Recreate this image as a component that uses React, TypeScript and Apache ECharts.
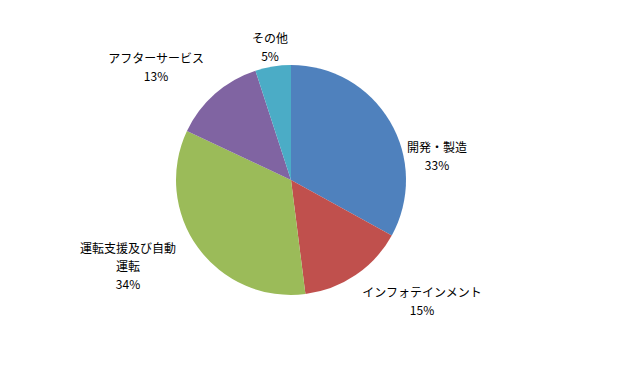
import React, { useEffect, useRef } from "react";
import * as echarts from "echarts";

const categories = ["開発・製造", "インフォテインメント", "運転支援及び自動運転", "アフターサービス", "その他"];
const shares = [33, 15, 34, 13, 5];
const colors = ["#4F81BD", "#C0504D", "#9BBB59", "#8064A2", "#4BACC6"];

// label centre positions (layout only)
const labelPos: [number, number][] = [
  [437, 155],
  [422, 300],
  [128, 265],
  [156, 66],
  [270, 46],
];

export default function App() {
  const ref = useRef<HTMLDivElement>(null);
  useEffect(() => {
    if (!ref.current) return;
    const chart = echarts.init(ref.current, undefined, { renderer: "svg" });
    chart.setOption({
      animation: false,
      backgroundColor: "#ffffff",
      series: [
        {
          type: "pie",
          center: [291, 180],
          radius: 115,
          startAngle: 90,
          clockwise: true,
          percentPrecision: 0,
          avoidLabelOverlap: false,
          itemStyle: { borderWidth: 0 },
          label: {
            show: true,
            position: "outside",
            formatter: "{b}\n{d}%",
            fontSize: 12,
            lineHeight: 18,
            color: "#000",
            fontFamily: "'Noto Sans CJK JP', sans-serif",
            align: "center",
          },
          labelLine: { show: false },
          labelLayout: (params: any) => {
            const p = labelPos[params.dataIndex];
            return { x: p[0], y: p[1], align: "center", verticalAlign: "middle" };
          },
          data: categories.map((name, i) => ({
            name,
            value: shares[i],
            itemStyle: { color: colors[i] },
            label: i === 2 ? { width: 100, overflow: "break" } : undefined,
          })),
        },
      ],
    });
    return () => chart.dispose();
  }, []);
  return (
    <div
      ref={ref}
      style={{ position: "fixed", left: 0, top: 0, width: 618, height: 368, background: "#fff" }}
    />
  );
}
